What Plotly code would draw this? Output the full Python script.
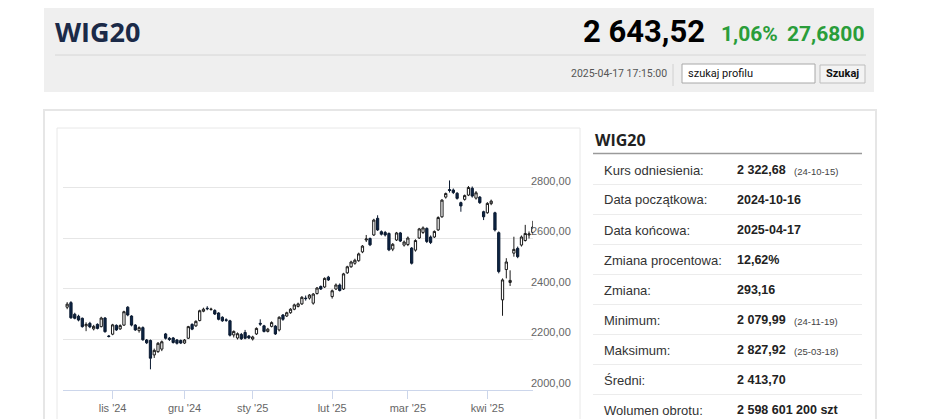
import plotly.graph_objects as go

W, H = 948, 419
OFF = 8  # the page body adds an 8px margin around the figure

# --- chart data (WIG20 daily candles, 2024-10-16 .. 2025-04-17) ---
dates = [
    "2024-10-16", "2024-10-17", "2024-10-18", "2024-10-21", "2024-10-22", "2024-10-23",
    "2024-10-24", "2024-10-25", "2024-10-28", "2024-10-29", "2024-10-30", "2024-10-31",
    "2024-11-04", "2024-11-05", "2024-11-06", "2024-11-07", "2024-11-08", "2024-11-12",
    "2024-11-13", "2024-11-14", "2024-11-15", "2024-11-18", "2024-11-19", "2024-11-20",
    "2024-11-21", "2024-11-22", "2024-11-25", "2024-11-26", "2024-11-27", "2024-11-28",
    "2024-11-29",
    "2024-12-02", "2024-12-03", "2024-12-04", "2024-12-05", "2024-12-06", "2024-12-09",
    "2024-12-10", "2024-12-11", "2024-12-12", "2024-12-13", "2024-12-16", "2024-12-17",
    "2024-12-18", "2024-12-19", "2024-12-20", "2024-12-23", "2024-12-27", "2024-12-30",
    "2025-01-02", "2025-01-03", "2025-01-07", "2025-01-08", "2025-01-09", "2025-01-10",
    "2025-01-13", "2025-01-14", "2025-01-15", "2025-01-16", "2025-01-17", "2025-01-20",
    "2025-01-21", "2025-01-22", "2025-01-23", "2025-01-24", "2025-01-27", "2025-01-28",
    "2025-01-29", "2025-01-30", "2025-01-31",
    "2025-02-03", "2025-02-04", "2025-02-05", "2025-02-06", "2025-02-07", "2025-02-10",
    "2025-02-11", "2025-02-12", "2025-02-13", "2025-02-14", "2025-02-17", "2025-02-18",
    "2025-02-19", "2025-02-20", "2025-02-21", "2025-02-24", "2025-02-25", "2025-02-26",
    "2025-02-27", "2025-02-28",
    "2025-03-03", "2025-03-04", "2025-03-05", "2025-03-06", "2025-03-07", "2025-03-10",
    "2025-03-11", "2025-03-12", "2025-03-13", "2025-03-14", "2025-03-17", "2025-03-18",
    "2025-03-19", "2025-03-20", "2025-03-21", "2025-03-24", "2025-03-25", "2025-03-26",
    "2025-03-27", "2025-03-28", "2025-03-31",
    "2025-04-01", "2025-04-02", "2025-04-03", "2025-04-04", "2025-04-07", "2025-04-08",
    "2025-04-09", "2025-04-10", "2025-04-11", "2025-04-14", "2025-04-15", "2025-04-16",
    "2025-04-17",
]

opens = [
    2326, 2344, 2298, 2290, 2282, 2252, 2262, 2240, 2258, 2249, 2283, 2212,
    2219, 2254, 2240, 2255, 2326, 2291, 2255, 2233, 2245, 2196, 2194, 2137, 2150, 2160,
    2220, 2203, 2204, 2196, 2194,
    2184, 2203, 2258, 2252, 2273, 2310, 2322, 2317, 2313, 2303, 2286, 2276, 2272, 2216,
    2204, 2218, 2226, 2212,
    2200, 2220, 2262, 2252, 2230, 2250, 2251, 2236, 2295, 2291, 2304, 2318, 2329, 2339,
    2362, 2362, 2342, 2380, 2408, 2406, 2445,
    2368, 2398, 2414, 2398, 2462, 2486, 2500, 2510, 2545, 2592, 2598, 2612, 2678, 2625,
    2622, 2618, 2556, 2592, 2620, 2572,
    2574, 2560, 2552, 2600, 2622, 2638, 2604, 2604, 2632, 2684, 2762, 2792, 2790, 2777,
    2740, 2753, 2770, 2797, 2758, 2762, 2704,
    2700, 2736, 2700, 2621, 2355, 2475, 2424, 2540, 2559, 2572, 2590, 2612, 2622,
]

highs = [
    2346, 2350, 2304, 2296, 2285, 2266, 2268, 2256, 2262, 2288, 2287, 2216,
    2260, 2258, 2258, 2312, 2330, 2294, 2259, 2250, 2250, 2200, 2198, 2162, 2188, 2194,
    2224, 2208, 2208, 2200, 2198,
    2200, 2252, 2262, 2274, 2316, 2324, 2330, 2324, 2318, 2306, 2290, 2282, 2276, 2234,
    2226, 2224, 2236, 2216,
    2213, 2246, 2278, 2256, 2244, 2270, 2255, 2290, 2299, 2308, 2322, 2340, 2344, 2370,
    2372, 2378, 2382, 2406, 2412, 2444, 2450,
    2396, 2420, 2420, 2462, 2490, 2510, 2518, 2542, 2572, 2612, 2602, 2676, 2690, 2630,
    2628, 2622, 2580, 2624, 2624, 2590,
    2606, 2564, 2595, 2640, 2646, 2642, 2610, 2630, 2686, 2754, 2780, 2827.92, 2796, 2782,
    2744, 2772, 2806, 2804, 2786, 2766, 2708,
    2742, 2752, 2704, 2626, 2440, 2520, 2472, 2605, 2566, 2610, 2652, 2626, 2668,
]

lows = [
    2318, 2280, 2278, 2270, 2245, 2231, 2243, 2234, 2238, 2246, 2225, 2206,
    2215, 2232, 2236, 2252, 2290, 2250, 2232, 2225, 2193, 2180, 2079.99, 2125, 2145, 2152,
    2198, 2192, 2182, 2178, 2180,
    2180, 2200, 2235, 2248, 2270, 2306, 2314, 2312, 2295, 2274, 2268, 2268, 2210, 2206,
    2198, 2196, 2199, 2200,
    2194, 2216, 2252, 2226, 2226, 2246, 2216, 2230, 2272, 2287, 2300, 2314, 2325, 2335,
    2352, 2356, 2336, 2376, 2394, 2402, 2430,
    2360, 2394, 2388, 2394, 2458, 2482, 2494, 2506, 2540, 2584, 2568, 2608, 2628, 2610,
    2606, 2548, 2548, 2588, 2584, 2566,
    2568, 2495, 2546, 2596, 2616, 2580, 2576, 2600, 2628, 2680, 2756, 2780, 2774, 2752,
    2704, 2748, 2766, 2760, 2752, 2735, 2671,
    2696, 2730, 2626, 2460, 2292, 2440, 2410, 2526, 2520, 2566, 2586, 2598, 2618,
]

closes = [
    2338, 2284, 2282, 2275, 2249, 2258, 2248, 2250, 2242, 2283, 2229, 2210,
    2256, 2236, 2253, 2308, 2295, 2255, 2236, 2245, 2197, 2185, 2124, 2155, 2183, 2189,
    2203, 2198, 2186, 2183, 2184,
    2196, 2249, 2239, 2270, 2312, 2318, 2320, 2318, 2299, 2278, 2272, 2274, 2215, 2230,
    2221, 2201, 2203, 2204,
    2208, 2242, 2259, 2230, 2239, 2265, 2220, 2286, 2278, 2304, 2318, 2335, 2339, 2365,
    2360, 2374, 2378, 2402, 2398, 2440, 2434,
    2391, 2414, 2392, 2458, 2486, 2505, 2512, 2537, 2568, 2596, 2573, 2671, 2632, 2615,
    2612, 2553, 2575, 2620, 2588, 2584,
    2600, 2500, 2590, 2636, 2640, 2586, 2582, 2626, 2681, 2750, 2776, 2788, 2780, 2757,
    2727, 2768, 2800, 2766, 2779, 2740, 2684,
    2737, 2746, 2632, 2467, 2434, 2505, 2432, 2555, 2526, 2604, 2618, 2615.84, 2643.52,
]

month_ticks = ["2024-11-04", "2024-12-02", "2025-01-02", "2025-02-03", "2025-03-03", "2025-04-01"]
month_labels = ["lis '24", "gru '24", "sty '25", "lut '25", "mar '25", "kwi '25"]
price_ticks = [2000, 2200, 2400, 2600, 2800, 3000]
price_labels = ["2000,00", "2200,00", "2400,00", "2600,00", "2800,00"]

# --- header / side table texts ---
index_name = "WIG20"
last_price = "2 643,52"
change_pct = "1,06%"
change_abs = "27,6800"
quote_time = "2025-04-17 17:15:00"

row_labels = ["Kurs odniesienia:", "Data początkowa:", "Data końcowa:", "Zmiana procentowa:",
              "Zmiana:", "Minimum:", "Maksimum:", "Średni:", "Wolumen obrotu:"]
row_values = ["2 322,68", "2024-10-16", "2025-04-17", "12,62%", "293,16",
              "2 079,99", "2 827,92", "2 413,70", "2 598 601 200 szt"]
row_notes = ["(24-10-15)", "", "", "", "", "(24-11-19)", "(25-03-18)", "", ""]


def px(x):
    return (x - OFF) / W


def py(y):
    return 1 - (y - OFF) / H


NARROW = "Liberation Sans Narrow, Roboto, Arial"
SANS = "Liberation Sans, Arial"

fig = go.Figure()

fig.add_candlestick(
    x=dates, open=opens, high=highs, low=lows, close=closes,
    increasing=dict(line=dict(color="#1a1a1a", width=1), fillcolor="#ffffff"),
    decreasing=dict(line=dict(color="#0b1a30", width=1), fillcolor="#0c2546"),
    whiskerwidth=0, showlegend=False, hoverinfo="skip",
)

shapes = []
annos = []


def rect(x0, y0, x1, y1, fill, line=None, lw=1):
    shapes.append(dict(type="rect", xref="paper", yref="paper",
                       x0=px(x0), x1=px(x1), y0=py(y0), y1=py(y1),
                       fillcolor=fill, line=dict(color=line or fill, width=lw if line else 0),
                       layer="below"))


def hline(x0, x1, y, color, lw=1):
    shapes.append(dict(type="line", xref="paper", yref="paper",
                       x0=px(x0), x1=px(x1), y0=py(y), y1=py(y),
                       line=dict(color=color, width=lw), layer="below"))


def txt(x, y, s, size, color="#222", bold=False, anchor="left", family=SANS):
    annos.append(dict(x=px(x), y=py(y), xref="paper", yref="paper", text=f"<b>{s}</b>" if bold else s,
                      showarrow=False, xanchor=anchor, yanchor="middle",
                      font=dict(size=size, color=color, family=family)))


# header box
rect(44, 5, 874, 92, "#efefef")
hline(55, 866, 55, "#d6d6d6")
txt(53, 31, index_name, 27, "#1b2a48", True, family="Open Sans, Arial")
txt(707, 32, last_price, 31, "#000000", True, "right", NARROW)
txt(719, 34, change_pct, 21, "#2a9d3a", True, "left", NARROW)
txt(866, 34, change_abs, 21, "#2a9d3a", True, "right", NARROW)
txt(669, 74, quote_time, 10.5, "#555555", anchor="right", family=NARROW)
shapes.append(dict(type="line", xref="paper", yref="paper", x0=px(673), x1=px(673),
                   y0=py(64), y1=py(86), line=dict(color="#d0d0d0", width=1)))
rect(682, 64, 815, 83, "#ffffff", "#a8a8a8")
txt(686, 73, "szukaj profilu", 11, "#111111", family=NARROW)
rect(820, 65, 865, 83, "#f3f3f3", "#bdbdbd")
txt(842.5, 74, "Szukaj", 11, "#111111", True, "center", NARROW)

# main panel and chart box
rect(44, 110, 876, 440, "#ffffff", "#e6e6e6", 2)
rect(57, 128, 580, 440, "#ffffff", "#e8e8e8", 1)

# price labels sit just above their gridlines, on the right
for v, lab in zip(price_ticks, price_labels):
    annos.append(dict(x=px(529), y=v, xref="paper", yref="y", text=lab, showarrow=False,
                      xanchor="left", yanchor="bottom", yshift=-1,
                      font=dict(size=11, color="#666666", family=SANS)))

# side table
txt(593, 140, index_name, 16, "#222222", True, family="Open Sans, Arial")
hline(593, 862, 153.5, "#9a9a9a", 1.5)
for k, (lab, val, note) in enumerate(zip(row_labels, row_values, row_notes)):
    yc = 170 + 30 * k
    txt(602, yc, lab, 13, "#333333")
    txt(735, yc, val, 12.5, "#222222", True)
    if note:
        txt(792, yc + 1, note, 9.5, "#444444")
    if k < len(row_labels) - 1:
        hline(593, 862, yc + 14.5, "#ececec")

fig.update_layout(
    width=W, height=H, margin=dict(l=0, r=0, t=0, b=0), autosize=False,
    paper_bgcolor="#ffffff", plot_bgcolor="rgba(0,0,0,0)",
    shapes=shapes, annotations=annos, hovermode=False,
    boxgap=0.15,
    xaxis=dict(
        type="category", domain=[px(63), px(533)], range=[-1.1, 123.05],
        tickvals=month_ticks, ticktext=month_labels,
        showgrid=False, showline=True, linecolor="#ccd6eb", linewidth=1,
        ticks="outside", ticklen=8, tickcolor="#ccd6eb",
        tickfont=dict(size=11, color="#666666", family=SANS),
        rangeslider=dict(visible=False), anchor="y", fixedrange=True,
    ),
    yaxis=dict(
        domain=[py(389.5), py(137)], range=[2000, 3000],
        tickvals=price_ticks, showticklabels=False,
        showgrid=True, gridcolor="#e6e6e6", gridwidth=1, zeroline=False,
        showline=False, ticks="", fixedrange=True,
    ),
)

fig.write_html("out.html")
